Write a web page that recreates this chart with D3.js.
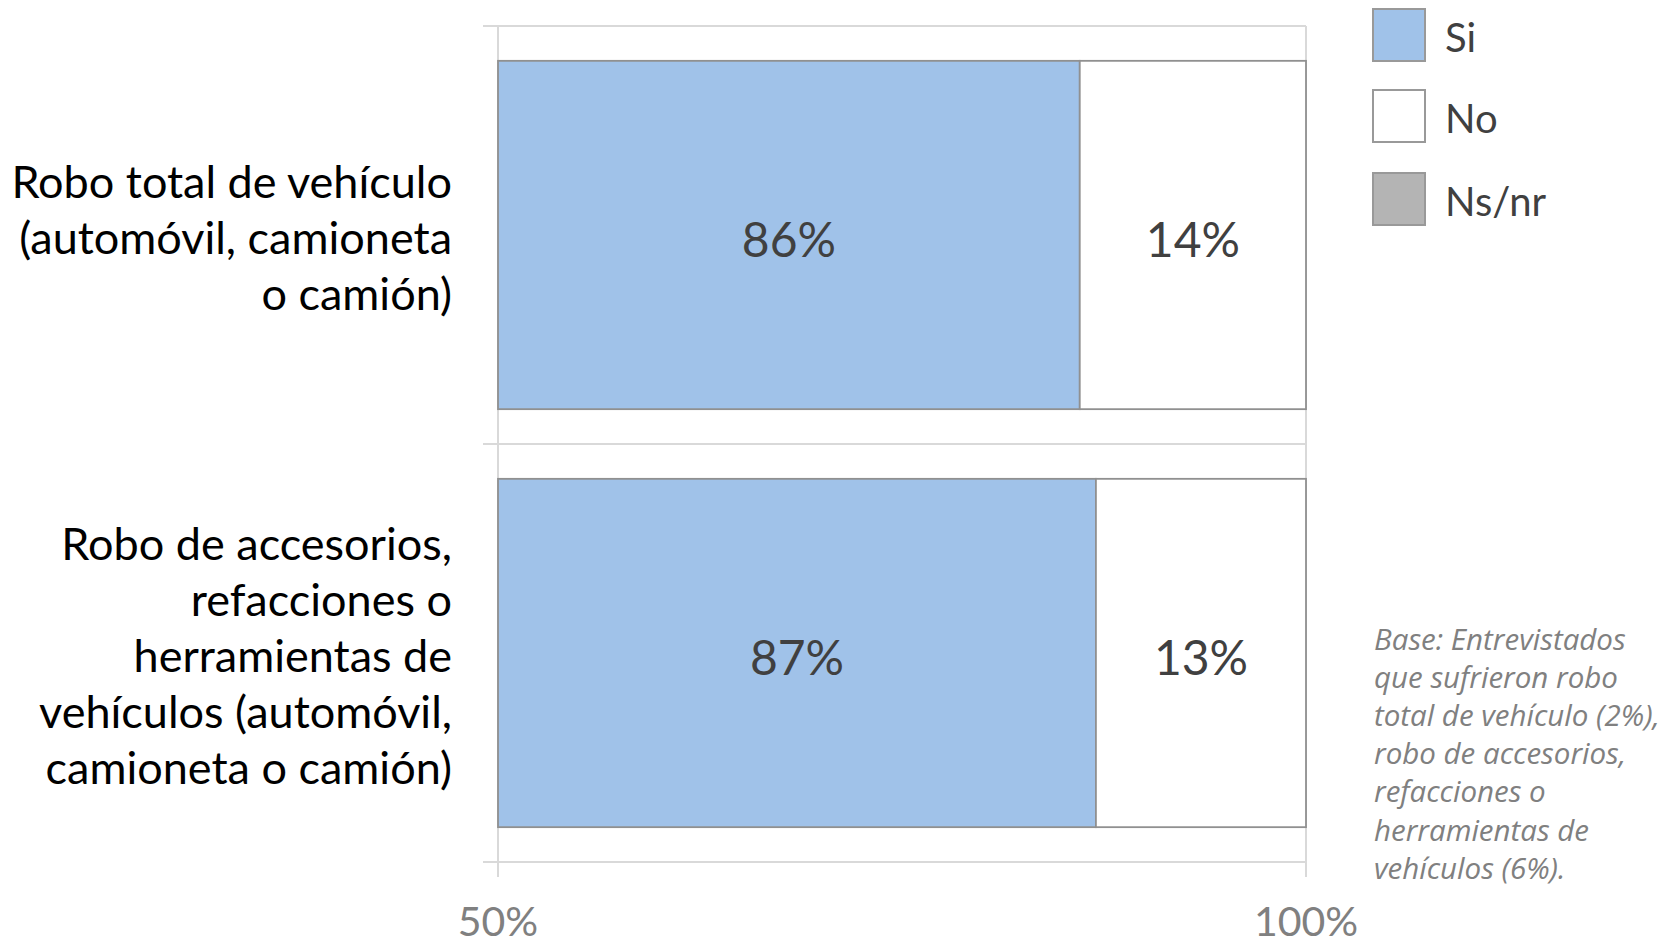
<!DOCTYPE html>
<html><head><meta charset="utf-8">
<script src="https://cdn.jsdelivr.net/npm/d3@7"></script>
<style>
html,body{margin:0;padding:0;background:#fff;}
svg{display:block;}
</style></head>
<body>
<svg id="chart" width="1673" height="944"></svg>
<script>
const categories = [
  ["Robo total de vehículo","(automóvil, camioneta","o camión)"],
  ["Robo de accesorios,","refacciones o","herramientas de","vehículos (automóvil,","camioneta o camión)"]
];
const categoryKeys = ["total", "accesorios"];
const seriesNames = ["Si", "No", "Ns/nr"];
const siValues = [86, 87];
const noValues = [14, 13];
const nsnrValues = [0, 0];
const tickValues = [50, 100];
const noteLines = ["Base: Entrevistados","que sufrieron robo","total de vehículo (2%),","robo de accesorios,","refacciones o","herramientas de","vehículos (6%)."];
const colors = ["#a0c2e9", "#ffffff", "#b4b4b4"];

const FONT = "Lato, 'Open Sans', sans-serif";
const svg = d3.select("#chart");

const rows = categoryKeys.map((k,i)=>({key:k, Si:siValues[i], No:noValues[i], "Ns/nr":nsnrValues[i]}));
const stacked = d3.stack().keys(seriesNames)(rows);

const x = d3.scaleLinear().domain([50, 100]).range([498, 1306]).clamp(true);
const y = d3.scaleBand().domain(categoryKeys).range([26, 862]).padding(0);
const inset = y.bandwidth() * (1 - 1/1.2) / 2;

// gridlines (horizontal category boundaries)
const bounds = categoryKeys.map(k => y(k)).concat([y.range()[1]]);
svg.append("g").selectAll("line").data(bounds).join("line")
  .attr("x1", 483).attr("x2", x(100))
  .attr("y1", d=>d).attr("y2", d=>d)
  .attr("stroke", "#d9d9d9").attr("stroke-width", 2);

// vertical gridlines at ticks
svg.append("g").selectAll("line").data(tickValues).join("line")
  .attr("x1", d=>x(d)).attr("x2", d=>x(d))
  .attr("y1", y.range()[0]).attr("y2", y.range()[1] + 15)
  .attr("stroke", "#d9d9d9").attr("stroke-width", 2);

// bars
const layers = svg.append("g").selectAll("g").data(stacked).join("g")
  .attr("fill", (d,i)=>colors[i]);
layers.selectAll("rect").data(d=>d.map(v=>({v, key:d.key}))).join("rect")
  .filter(d => d.v[1]-d.v[0] > 0)
  .attr("x", d=>x(d.v[0]))
  .attr("width", d=>x(d.v[1]) - x(d.v[0]))
  .attr("y", d=>y(d.v.data.key) + inset)
  .attr("height", y.bandwidth() - 2*inset)
  .attr("stroke", "#909090").attr("stroke-width", 1.8);

// data labels
layers.selectAll("text").data(d=>d.map(v=>({v, key:d.key}))).join("text")
  .filter(d => d.v[1]-d.v[0] > 0)
  .attr("x", d=>(x(d.v[0]) + x(d.v[1]))/2)
  .attr("y", d=>y(d.v.data.key) + y.bandwidth()/2)
  .attr("dy", "0.45em")
  .attr("text-anchor", "middle")
  .attr("fill", "#404040")
  .attr("font-family", FONT).attr("font-size", 48)
  .text(d=>(d.v[1]-d.v[0]) + "%");

// category labels
const catG = svg.append("g");
categoryKeys.forEach((k,i)=>{
  const lines = categories[i];
  const lh = 56;
  const cy = y(k) + y.bandwidth()/2;
  const t = catG.append("text")
    .attr("text-anchor","end")
    .attr("font-family", FONT).attr("font-size", 45)
    .attr("fill","#000");
  lines.forEach((ln,j)=>{
    t.append("tspan").attr("x", 452)
      .attr("y", cy + 19 + (j - (lines.length-1)/2)*lh)
      .text(ln);
  });
});

// x tick labels
svg.append("g").selectAll("text").data(tickValues).join("text")
  .attr("x", d=>x(d)).attr("y", 936)
  .attr("text-anchor","middle")
  .attr("font-family", FONT).attr("font-size", 41)
  .attr("fill","#808080")
  .text(d=>d + "%");

// legend
const legendY = [8, 89, 172];
const lg = svg.append("g").selectAll("g").data(seriesNames).join("g")
  .attr("transform",(d,i)=>`translate(1372,${legendY[i]})`);
lg.append("rect").attr("x",1).attr("y",1).attr("width",52).attr("height",52)
  .attr("fill",(d,i)=>colors[i]).attr("stroke","#999").attr("stroke-width",2);
lg.append("text").attr("x",73).attr("y",44)
  .attr("font-family", FONT).attr("font-size", 40).attr("fill","#404040")
  .text(d=>d);

// note
const note = svg.append("text")
  .attr("font-family", "'Open Sans', Lato, sans-serif").attr("font-size", 29.5)
  .attr("font-style","italic").attr("fill","#808080");
noteLines.forEach((ln,j)=>{
  note.append("tspan").attr("x",1374).attr("y", 650 + j*38.1).text(ln);
});
</script>
</body></html>
